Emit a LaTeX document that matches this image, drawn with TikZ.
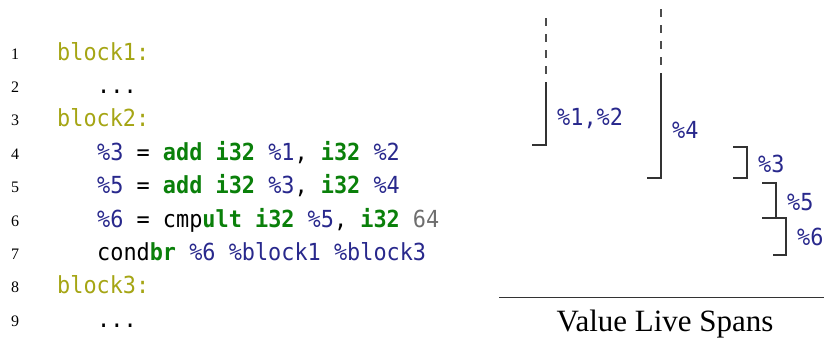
\documentclass[tikz,border=0pt]{standalone}
\usepackage{fontspec}
\setmainfont{Liberation Serif}
\newfontfamily\codefont[FakeStretch=0.93]{DejaVu Sans Mono}
\definecolor{lblcol}{RGB}{165,165,20}
\definecolor{valcol}{RGB}{40,40,140}
\definecolor{kwcol}{RGB}{10,128,10}
\definecolor{numcol}{RGB}{110,110,110}
\newcommand{\lb}[1]{\textcolor{lblcol}{#1}}
\newcommand{\vl}[1]{\textcolor{valcol}{#1}}
\newcommand{\kw}[1]{\textcolor{kwcol}{\bfseries #1}}
\newcommand{\cn}[1]{\textcolor{numcol}{#1}}
\begin{document}
\begin{tikzpicture}[x=1pt,y=-1pt,
  num/.style={anchor=base, font=\fontsize{16}{16}\selectfont, inner sep=0pt},
  code/.style={anchor=base west, font=\codefont\fontsize{23.5}{23.5}\selectfont, inner sep=0pt},
  spanlabel/.style={anchor=base west, font=\codefont\fontsize{23.5}{23.5}\selectfont, inner sep=0pt, text=valcol},
  span/.style={draw=black!80, line width=1.1pt},
  dspan/.style={draw=black!70, line width=1.1pt, dash pattern=on 8pt off 8pt},
  caption/.style={anchor=base, font=\fontsize{31}{31}\selectfont, inner sep=0pt}]
\useasboundingbox (0,0) rectangle (824,340);
% line numbers
\foreach \i in {1,...,9}{
  \node[num] (n\i) at (15,{59+(\i-1)*33.4}) {\i};
}
% code
\node[code] (c1) at (57,{60+0*33.4}) {\lb{block1:}};
\node[code] (c2) at (97,{60+1*33.4}) {...};
\node[code] (c3) at (57,{60+2*33.4}) {\lb{block2:}};
\node[code] (c4) at (97,{60+3*33.4}) {\vl{\%3} = \kw{add} \kw{i32} \vl{\%1}, \kw{i32} \vl{\%2}};
\node[code] (c5) at (97,{60+4*33.4}) {\vl{\%5} = \kw{add} \kw{i32} \vl{\%3}, \kw{i32} \vl{\%4}};
\node[code] (c6) at (97,{60+5*33.4}) {\vl{\%6} = cmp\kw{ult} \kw{i32} \vl{\%5}, \kw{i32} \cn{64}};
\node[code] (c7) at (97,{60+6*33.4}) {cond\kw{br} \vl{\%6} \vl{\%block1} \vl{\%block3}};
\node[code] (c8) at (57,{60+7*33.4}) {\lb{block3:}};
\node[code] (c9) at (97,{60+8*33.4}) {...};
% spans
\coordinate (a0) at (546,18);
\coordinate (a1) at (546,82);
\coordinate (a2) at (546,145);
\coordinate (a3) at (532,145);
\draw[dspan] (a0) -- (a1);
\draw[span] (a1) -- (a2) -- (a3);
\node[spanlabel] (l12) at (557,125) {\%1,\%2};

\coordinate (b0) at (661,9);
\coordinate (b1) at (661,66);
\coordinate (b2) at (661,73);
\coordinate (b3) at (661,178);
\coordinate (b4) at (647,178);
\draw[dspan] (b0) -- (b1);
\draw[span] (b2) -- (b3) -- (b4);
\node[spanlabel] (l4) at (672,138) {\%4};

\coordinate (c0a) at (733,147);
\coordinate (c1a) at (747,147);
\coordinate (c2a) at (747,178);
\coordinate (c3a) at (733,178);
\draw[span] (c0a) -- (c1a) -- (c2a) -- (c3a);
\node[spanlabel] (l3) at (758,172) {\%3};

\coordinate (d0) at (762,183);
\coordinate (d1) at (776,183);
\coordinate (d2) at (776,218);
\coordinate (d3) at (762,218);
\draw[span] (d0) -- (d1) -- (d2) -- (d3);
\node[spanlabel] (l5) at (787,210) {\%5};

\coordinate (e0) at (772,218);
\coordinate (e1) at (786,218);
\coordinate (e2) at (786,255);
\coordinate (e3) at (773,255);
\draw[span] (e0) -- (e1) -- (e2) -- (e3);
\node[spanlabel] (l6) at (797,245) {\%6};
% caption
\coordinate (r0) at (499,297);
\coordinate (r1) at (824,297);
\draw[draw=black!80, line width=1pt] (r0) -- (r1);
\node[caption] (cap) at (665,331) {Value Live Spans};
\end{tikzpicture}
\end{document}
